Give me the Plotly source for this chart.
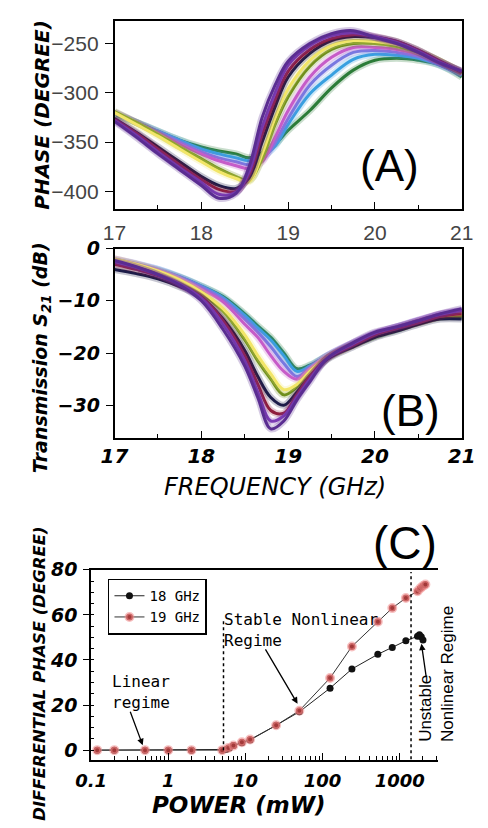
import plotly.graph_objects as go

W, H = 488, 828

# ---------------- DATA ----------------
# Panel A: phase (degree) vs frequency (GHz)
freq_a = [17, 17.25, 17.5, 17.75, 18, 18.2, 18.4, 18.55, 18.7, 18.85, 19, 19.25, 19.5, 19.75, 20, 20.25, 20.5, 20.75, 21]
phase_c1 = [-329, -345, -362, -378, -394, -407, -402, -375, -325, -292, -268, -250, -240, -237, -244, -250, -259, -270, -278]
phase_c2 = [-328, -343, -360, -376, -391, -403, -401, -380, -335, -300, -272, -252, -242, -239, -243, -249, -258, -269, -278]
phase_c3 = [-327, -341, -357, -373, -388, -398, -400, -383, -342, -307, -278, -256, -245, -241, -243, -248, -257, -268, -279]
phase_c4 = [-326, -340, -355, -370, -385, -394, -397, -386, -350, -314, -284, -260, -247, -243, -244, -248, -257, -268, -279]
phase_c5 = [-320, -332, -344, -357, -370, -380, -387, -390, -362, -325, -296, -267, -252, -247, -248, -251, -258, -268, -279]
phase_c6 = [-319, -330, -342, -355, -367, -377, -385, -389, -367, -332, -304, -273, -256, -250, -250, -253, -259, -268, -280]
phase_c7 = [-320, -330, -341, -352, -362, -369, -374, -377, -370, -345, -318, -284, -264, -254, -254, -256, -261, -270, -281]
phase_c8 = [-320, -330, -340, -350, -360, -366, -370, -373, -368, -350, -326, -292, -272, -259, -257, -259, -263, -271, -281]
phase_c9 = [-321, -330, -339, -348, -357, -362, -366, -369, -365, -354, -332, -301, -282, -266, -261, -262, -265, -272, -282]
phase_c10 = [-322, -330, -339, -348, -355, -359, -362, -366, -361, -352, -338, -318, -295, -277, -267, -265, -267, -272, -284]

# Panel B: transmission S21 (dB) vs frequency (GHz)
freq_b = [17, 17.25, 17.5, 17.75, 18, 18.25, 18.5, 18.65, 18.8, 18.95, 19.1, 19.25, 19.45, 19.75, 20, 20.25, 20.5, 20.75, 21]
s21_c1 = [-2.3, -3.5, -5.0, -7.0, -10.0, -15.5, -22.5, -28.5, -34.5, -33.0, -29.0, -25.5, -21.0, -18.0, -16.0, -15.0, -13.8, -12.5, -11.5]
s21_c2 = [-2.5, -3.6, -5.0, -6.8, -9.5, -14.5, -21.5, -27.5, -33.0, -32.0, -28.5, -25.0, -21.0, -18.2, -16.2, -15.0, -13.8, -12.6, -11.8]
s21_c3 = [-3.0, -4.0, -5.2, -7.0, -9.3, -13.8, -20.5, -26.0, -31.0, -31.5, -28.0, -24.5, -21.0, -18.5, -16.5, -15.3, -14.2, -13.0, -12.5]
s21_c4 = [-4.0, -4.8, -5.8, -7.3, -9.3, -13.5, -19.5, -24.5, -28.5, -30.0, -27.5, -24.5, -21.2, -18.8, -17.0, -15.8, -14.5, -13.5, -13.5]
s21_c5 = [-2.0, -3.0, -4.3, -6.0, -8.3, -11.5, -16.5, -20.5, -24.0, -27.0, -26.0, -23.5, -20.8, -18.3, -16.5, -15.3, -14.0, -13.0, -12.5]
s21_c6 = [-2.5, -3.5, -4.8, -6.5, -8.7, -12.0, -17.5, -21.5, -25.0, -28.0, -26.5, -24.0, -21.0, -18.5, -16.8, -15.5, -14.2, -13.2, -13.0]
s21_c7 = [-2.0, -3.0, -4.2, -5.8, -7.8, -10.2, -14.5, -17.0, -20.5, -23.5, -25.0, -23.0, -20.5, -18.0, -16.2, -15.0, -13.7, -12.5, -12.0]
s21_c8 = [-2.0, -2.9, -4.0, -5.5, -7.4, -9.8, -13.5, -16.0, -18.8, -22.0, -24.5, -22.8, -20.5, -18.0, -16.3, -15.0, -13.7, -12.6, -12.0]
s21_c9 = [-2.2, -3.0, -4.0, -5.4, -7.2, -9.4, -12.8, -15.2, -17.5, -20.5, -23.5, -22.5, -20.5, -18.2, -16.5, -15.2, -14.0, -12.8, -12.3]
s21_c10 = [-2.5, -3.2, -4.2, -5.5, -7.2, -9.2, -12.5, -14.8, -17.0, -20.0, -23.0, -22.3, -20.6, -18.4, -16.8, -15.5, -14.2, -13.0, -12.8]

curve_colors = ['#5a2d91', '#7d3cb5', '#8e1f3f', '#1d1d4a', '#f2e66a',
                '#6f8f1f', '#c65cc8', '#7a78e0', '#3aa0e0', '#2e7d3a']

# Panel C: differential phase vs power
power_18 = [0.12, 0.2, 0.5, 1, 2, 5, 5.6, 6.2, 7, 9, 11.5, 25, 50, 125, 240, 520, 800, 1200, 1700, 1800, 1900, 2000]
dphase_18 = [0, 0, 0, 0, 0, 0, 0.3, 1, 2, 3.3, 4.5, 11, 17, 27.5, 36, 42.5, 45.5, 48.5, 50.5, 51.2, 50.3, 48.8]
power_19 = [0.12, 0.2, 0.5, 1, 2, 5, 6, 7, 9, 11.5, 25, 50, 125, 240, 520, 800, 1200, 1700, 1850, 2000, 2150]
dphase_19 = [0, 0, 0, 0, 0, 0, 1, 2, 3.5, 4.7, 11, 17.5, 32, 46, 57, 63, 67.5, 70.5, 71.8, 72.8, 73.5]

regime_bounds = [5.2, 1400]

# ---------------- FIGURE ----------------
def px(x):
    return x / W

def py(y):
    return 1 - y / H

fig = go.Figure()

phase_curves = [phase_c1, phase_c2, phase_c3, phase_c4, phase_c5, phase_c6, phase_c7, phase_c8, phase_c9, phase_c10]
s21_curves = [s21_c1, s21_c2, s21_c3, s21_c4, s21_c5, s21_c6, s21_c7, s21_c8, s21_c9, s21_c10]

for i in reversed(range(10)):
    col = curve_colors[i]
    fig.add_trace(go.Scatter(x=freq_a, y=phase_curves[i], mode='lines', xaxis='x', yaxis='y',
                             line=dict(color=col, width=7, shape='spline'), opacity=0.25,
                             showlegend=False, hoverinfo='skip'))
    fig.add_trace(go.Scatter(x=freq_a, y=phase_curves[i], mode='lines', xaxis='x', yaxis='y',
                             line=dict(color=col, width=3, shape='spline'), showlegend=False))
    fig.add_trace(go.Scatter(x=freq_b, y=s21_curves[i], mode='lines', xaxis='x2', yaxis='y2',
                             line=dict(color=col, width=7, shape='spline'), opacity=0.25,
                             showlegend=False, hoverinfo='skip'))
    fig.add_trace(go.Scatter(x=freq_b, y=s21_curves[i], mode='lines', xaxis='x2', yaxis='y2',
                             line=dict(color=col, width=3, shape='spline'), showlegend=False))

fig.add_trace(go.Scatter(x=power_18, y=dphase_18, mode='lines+markers', name='18 GHz',
                         xaxis='x3', yaxis='y3',
                         line=dict(color='#222222', width=1),
                         marker=dict(symbol='circle', size=7, color='#111111')))
fig.add_trace(go.Scatter(x=power_19, y=dphase_19, mode='lines+markers', name='19 GHz',
                         xaxis='x3', yaxis='y3',
                         line=dict(color='#333333', width=1),
                         marker=dict(symbol='circle', size=7, color='#a33a3a',
                                     line=dict(color='rgba(240,140,140,0.55)', width=3))))

tick_sans = dict(family='Liberation Sans', size=21, color='#444444')
tick_bi = dict(family='DejaVu Sans', size=19, color='black', weight='bold', style='italic')

minor_log = [m * 10 ** e for e in range(-1, 4) for m in range(2, 10)]

fig.update_layout(
    width=W, height=H,
    margin=dict(l=0, r=0, t=0, b=0),
    paper_bgcolor='white', plot_bgcolor='white',
    showlegend=True,
    legend=dict(x=px(98), y=py(576), xanchor='left', yanchor='top',
                bordercolor='black', borderwidth=1.5, bgcolor='white',
                font=dict(family='DejaVu Sans Mono', size=14, color='black'),
                tracegroupgap=0, itemwidth=30),
    xaxis=dict(domain=[px(105), px(475)], range=[17, 21], anchor='y',
               showline=True, linecolor='black', linewidth=1.5, mirror=True,
               ticks='inside', ticklen=7, tickcolor='black', dtick=1,
               minor=dict(ticks='inside', dtick=0.5, ticklen=4, tickcolor='black'),
               showgrid=False, zeroline=False, tickfont=tick_sans, ticklabelstandoff=4),
    yaxis=dict(domain=[py(201), py(10)], range=[-418, -227], anchor='x',
               showline=True, linecolor='black', linewidth=1.5, mirror=True,
               ticks='outside', ticklen=8, tickcolor='black', dtick=50,
               showgrid=False, zeroline=False, tickfont=tick_sans, ticklabelstandoff=2),
    xaxis2=dict(domain=[px(105), px(475)], range=[17, 21], anchor='y2',
                showline=True, linecolor='black', linewidth=1.5, mirror=True,
                ticks='inside', ticklen=7, tickcolor='black', dtick=1,
                minor=dict(ticks='inside', dtick=0.5, ticklen=4, tickcolor='black'),
                showgrid=False, zeroline=False,
                tickfont=dict(family='DejaVu Sans', size=20, color='black', weight='bold', style='italic')),
    yaxis2=dict(domain=[py(433), py(241)], range=[-36.2, 0], anchor='x2',
                showline=True, linecolor='black', linewidth=1.5, mirror=True,
                ticks='outside', ticklen=7, tickcolor='black', dtick=10,
                showgrid=False, zeroline=False, tickfont=tick_bi, ticklabelstandoff=2),
    xaxis3=dict(domain=[px(80), px(450)], type='log', range=[-1, 3.5], anchor='y3',
                showline=True, linecolor='black', linewidth=1.5, mirror=True,
                ticks='inside', ticklen=7, tickcolor='black',
                tickvals=[0.1, 1, 10, 100, 1000], ticktext=['0.1', '1', '10', '100', '1000'],
                minor=dict(ticks='inside', tickvals=minor_log, ticklen=4, tickcolor='black'),
                showgrid=False, zeroline=False,
                tickfont=dict(family='DejaVu Sans', size=18, color='black', weight='bold', style='italic'),
                ticklabelstandoff=4),
    yaxis3=dict(domain=[py(760), py(567)], range=[-4.37, 80], anchor='x3',
                showline=True, linecolor='black', linewidth=1.5, mirror=False,
                ticks='outside', ticklen=6, tickcolor='black', dtick=20,
                minor=dict(ticks='inside', dtick=5, ticklen=3, tickcolor='black'),
                showgrid=False, zeroline=False,
                tickfont=dict(family='DejaVu Sans', size=19, color='black', weight='bold', style='italic'),
                ticklabelstandoff=2),
)

# regime boundaries (dotted)
fig.add_shape(type='line', xref='x3', yref='y3', x0=regime_bounds[0], x1=regime_bounds[0], y0=0, y1=58,
              line=dict(color='black', width=1.5, dash='dot'))
fig.add_shape(type='line', xref='x3', yref='y3', x0=regime_bounds[1], x1=regime_bounds[1], y0=-4, y1=79,
              line=dict(color='black', width=1.5, dash='dot'))

ann = []

def label(text, x, y, size, angle=0, font=None, weight='normal', style='normal', anchor='center'):
    f = dict(family=font or 'DejaVu Sans', size=size, color='black', weight=weight, style=style)
    ann.append(dict(text=text, x=px(x), y=py(y), xref='paper', yref='paper',
                    xanchor=anchor, yanchor='middle', showarrow=False, align=anchor,
                    textangle=angle, font=f))

label('PHASE (DEGREE)', 28, 105, 20, angle=-90, weight='bold', style='italic')
label('Transmission S<sub>21</sub> (dB)', 28, 352, 19, angle=-90, weight='bold', style='italic')
label('DIFFERENTIAL PHASE (DEGREE)', 25, 672, 16.5, angle=-90, weight='bold', style='italic')
label('FREQUENCY (GHz)', 276, 483, 24, style='italic')
label('POWER (mW)', 238, 806, 23, weight='bold', style='italic')
label('(A)', 398, 157, 44, font='Liberation Sans')
label('(B)', 420, 405, 44, font='Liberation Sans')
label('(C)', 415, 540, 46, font='Liberation Sans')
label('Linear<br>regime', 100, 691, 16, font='DejaVu Sans Mono', anchor='left')
label('Stable Nonlinear<br>Regime', 220, 628, 16, font='DejaVu Sans Mono', anchor='left')
label('Unstable', 437, 708, 17, angle=-90, font='Liberation Sans')
label('Nonlinear Regime', 460, 673, 17, angle=-90, font='Liberation Sans')

def arrow(hx, hy, tx, ty):
    ann.append(dict(text='', x=px(hx), y=py(hy), xref='paper', yref='paper',
                    ax=tx - hx, ay=ty - hy, showarrow=True, arrowhead=2, arrowsize=1,
                    arrowwidth=1.3, arrowcolor='black', standoff=0, startstandoff=0))

arrow(135, 745, 122, 710)
arrow(300, 703, 267, 647)
arrow(432, 642, 437, 677)

fig.update_layout(annotations=ann)

post = ("document.documentElement.style.margin='0';document.body.style.margin='0';"
        "document.body.style.padding='0';document.documentElement.style.overflow='hidden';"
        "var g=document.getElementById('{plot_id}');if(g){g.style.position='absolute';"
        "g.style.left='0px';g.style.top='0px';}")

fig.write_html('out.html', config={'displayModeBar': False}, post_script=post)
